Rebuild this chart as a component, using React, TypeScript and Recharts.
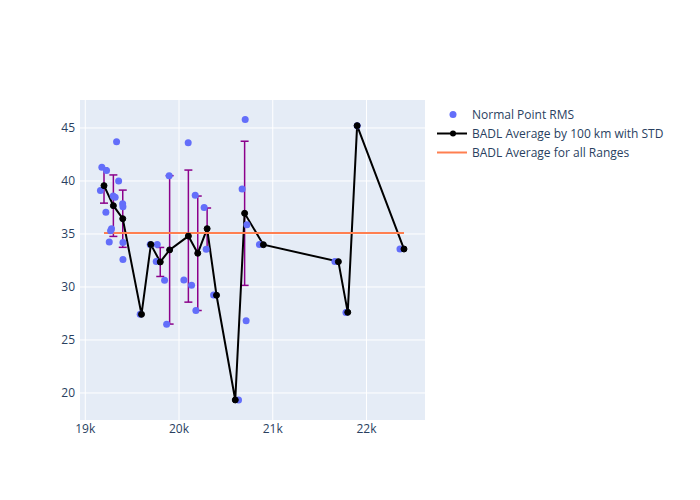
import React from 'react';
import { ComposedChart, Scatter, Line, XAxis, YAxis, CartesianGrid, ErrorBar } from 'recharts';

const scatterX = [19162, 19177, 19220, 19227, 19256, 19270, 19280, 19298, 19319, 19334, 19356, 19399, 19402, 19402, 19402, 19586, 19693, 19757, 19768, 19846, 19868, 19895, 20052, 20098, 20134, 20173, 20180, 20268, 20290, 20369, 20635, 20673, 20706, 20716, 20724, 20858, 21663, 21781, 21901, 22357];
const scatterY = [39.1, 41.3, 37.05, 41.0, 34.25, 35.3, 35.5, 38.58, 38.46, 43.7, 40.0, 37.86, 37.58, 34.2, 32.6, 27.42, 34.0, 32.4, 34.0, 30.63, 26.48, 40.5, 30.66, 43.6, 30.16, 38.65, 27.77, 37.5, 33.55, 29.25, 19.34, 39.25, 45.8, 26.82, 35.88, 34.0, 32.4, 27.6, 45.2, 33.58];

const avgX = [19200, 19300, 19400, 19600, 19700, 19800, 19900, 20100, 20200, 20300, 20400, 20600, 20700, 20900, 21700, 21800, 21900, 22400];
const avgY = [39.56, 37.67, 36.44, 27.42, 34.0, 32.36, 33.5, 34.8, 33.18, 35.5, 29.22, 19.34, 36.95, 33.99, 32.39, 27.61, 45.22, 33.58];
const avgStd = [1.65, 2.9, 2.7, 0, 0, 1.37, 7.0, 6.23, 5.4, 1.95, 0, 0, 6.8, 0, 0, 0, 0, 0];

const overallAvg = 35.1;
const overallRange = [19200, 22400];

const xTicks = [19000, 20000, 21000, 22000];
const yTicks = [20, 25, 30, 35, 40, 45];

const scatterData = scatterX.map((x, i) => ({ x, y: scatterY[i] }));
const avgData = avgX.map((x, i) => ({ x, y: avgY[i], err: avgStd[i] }));
const overallData = overallRange.map((x) => ({ x, y: overallAvg }));

const FONT = '"Open Sans", verdana, arial, sans-serif';
const TXT = '#2a3f5f';

const legendItems = [
  { label: 'Normal Point RMS', type: 'dot' },
  { label: 'BADL Average by 100 km with STD', type: 'linedot' },
  { label: 'BADL Average for all Ranges', type: 'line' },
];

const LegendBox = () => (
  <div style={{ position: 'absolute', left: 436, top: 105, width: 264, fontFamily: FONT, fontSize: 12, color: TXT }}>
    {legendItems.map((it) => (
      <div key={it.label} style={{ display: 'flex', alignItems: 'center', height: 19 }}>
        <svg width={36} height={19} style={{ display: 'block' }}>
          {it.type === 'dot' && <circle cx={17} cy={9.5} r={3.5} fill="#636efa" />}
          {it.type === 'linedot' && (
            <g>
              <line x1={1} y1={9.5} x2={31} y2={9.5} stroke="#000" strokeWidth={2} />
              <circle cx={17} cy={9.5} r={3} fill="#000" />
            </g>
          )}
          {it.type === 'line' && <line x1={1} y1={9.5} x2={31} y2={9.5} stroke="#ff7f50" strokeWidth={2} />}
        </svg>
        <span>{it.label}</span>
      </div>
    ))}
  </div>
);

const ScatterDot = (props: any) => {
  const { cx, cy } = props;
  return <circle cx={cx} cy={cy} r={3.5} fill="#636efa" />;
};

const XTick = (props: any) => {
  const { x, y, payload } = props;
  return (
    <text x={x} y={y + 13} textAnchor="middle" fill={TXT} fontSize={12} fontFamily={FONT}>
      {`${payload.value / 1000}k`}
    </text>
  );
};

export default function App() {
  return (
    <div style={{ position: 'absolute', left: 0, top: 0, width: 700, height: 500 }}>
      <ComposedChart width={700} height={500} margin={{ top: 100, right: 275, bottom: 50, left: 0 }}>
        <CartesianGrid fill="#e5ecf6" stroke="#ffffff" strokeWidth={1} horizontalValues={yTicks} verticalValues={xTicks} />
        <XAxis
          type="number"
          dataKey="x"
          domain={[18944, 22624]}
          ticks={xTicks}
          axisLine={false}
          tickLine={false}
          tickSize={0}
          tickMargin={0}
          height={30}
          allowDataOverflow
          tick={<XTick />}
        />
        <YAxis
          type="number"
          dataKey="y"
          domain={[17.45, 47.64]}
          ticks={yTicks}
          axisLine={false}
          tickLine={false}
          tickSize={3}
          width={80}
          allowDataOverflow
          tick={{ fill: TXT, fontSize: 12, fontFamily: FONT }}
        />
        <Scatter data={scatterData} dataKey="y" fill="#636efa" shape={ScatterDot} isAnimationActive={false} />
        <Line
          data={avgData}
          dataKey="y"
          stroke="#000000"
          strokeWidth={2}
          dot={{ r: 3, fill: '#000', stroke: '#000', strokeWidth: 1 }}
          activeDot={false}
          isAnimationActive={false}
        >
          <ErrorBar dataKey="err" direction="y" width={4} stroke="#8b008b" strokeWidth={1.5} />
        </Line>
        <Line
          data={overallData}
          dataKey="y"
          stroke="#ff7f50"
          strokeWidth={2}
          dot={false}
          activeDot={false}
          isAnimationActive={false}
        />
      </ComposedChart>
      <LegendBox />
    </div>
  );
}
